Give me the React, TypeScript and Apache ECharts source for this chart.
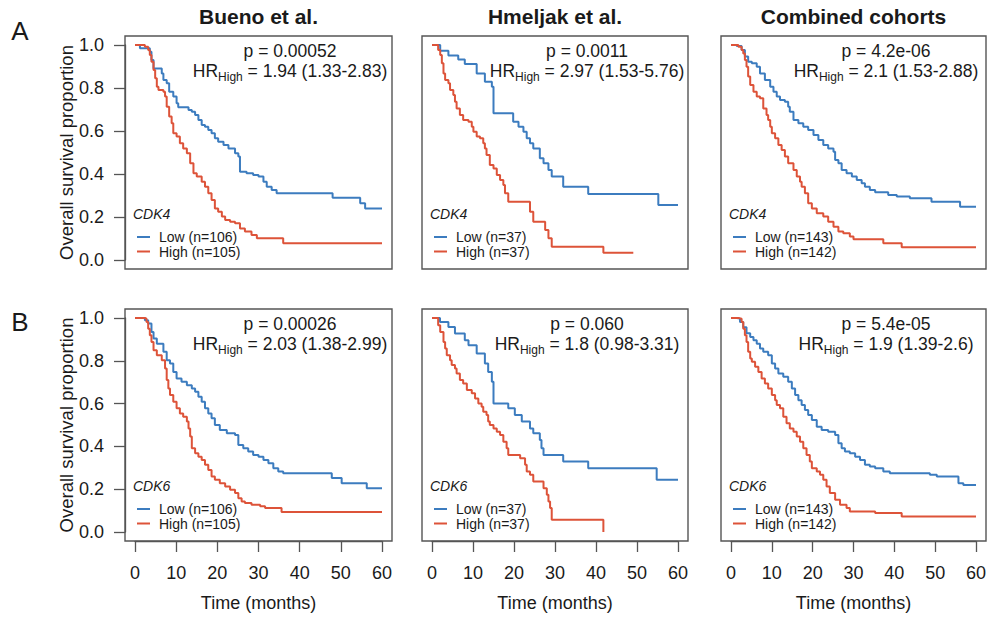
import React, { useEffect, useRef } from "react";
import * as echarts from "echarts";

// ---------- data ----------
const cohorts = ["Bueno et al.", "Hmeljak et al.", "Combined cohorts"];
const genes = ["CDK4", "CDK6"];
const rowLabels = ["A", "B"];
const timeTicks = [0, 10, 20, 30, 40, 50, 60];
const survivalTicks = [0, 0.2, 0.4, 0.6, 0.8, 1.0];
const pValues = [
  ["0.00052", "0.0011", "4.2e-06"],
  ["0.00026", "0.060", "5.4e-05"],
];
const hrValues = [
  ["1.94 (1.33-2.83)", "2.97 (1.53-5.76)", "2.1 (1.53-2.88)"],
  ["2.03 (1.38-2.99)", "1.8 (0.98-3.31)", "1.9 (1.39-2.6)"],
];
const lowN = [106, 37, 143];
const highN = [105, 37, 142];

const buenoCdk4Low = [[0,1],[1.2,.985],[3.6,.969],[4.0,.930],[4.5,.891],[6.5,.868],[6.9,.837],[7.7,.822],[8.3,.783],[9.3,.760],[10.1,.729],[10.5,.710],[13.0,.698],[13.8,.690],[14.6,.674],[15.4,.651],[16.2,.628],[17.0,.620],[17.8,.605],[18.6,.589],[19.4,.566],[20.2,.550],[21.5,.535],[22.7,.519],[24.3,.496],[25.1,.481],[25.5,.411],[27.1,.403],[28.7,.395],[30.0,.388],[31.2,.364],[32.0,.341],[33.2,.326],[34.4,.310],[48.0,.290],[54.7,.264],[55.9,.240],[60,.240]];
const buenoCdk4High = [[0,1],[2.4,.992],[3.2,.977],[3.6,.953],[4.0,.922],[4.5,.884],[4.9,.845],[5.3,.806],[5.7,.791],[6.9,.783],[7.3,.760],[7.7,.713],[8.3,.667],[8.9,.636],[9.3,.589],[10.1,.574],[10.9,.543],[11.7,.519],[12.6,.496],[13.4,.450],[14.2,.403],[15.0,.388],[16.2,.364],[17.0,.341],[17.8,.310],[18.6,.279],[19.4,.240],[20.2,.225],[21.1,.202],[21.9,.186],[23.1,.178],[24.3,.171],[25.5,.147],[26.7,.132],[28.3,.116],[29.6,.101],[36.0,.078],[60,.078]];
const hmeljakCdk4Low = [[0,1],[2.0,.973],[4.0,.951],[6.4,.932],[8.0,.912],[10.9,.868],[12.9,.829],[14.6,.806],[15.0,.682],[19.8,.643],[21.1,.620],[22.3,.597],[23.1,.566],[23.9,.543],[24.7,.519],[26.3,.473],[27.2,.450],[28.4,.419],[29.2,.388],[32.0,.341],[38.1,.307],[55.2,.256],[60,.256]];
const hmeljakCdk4High = [[0,1],[1.5,.977],[2.0,.953],[2.4,.915],[2.8,.868],[3.2,.837],[4.0,.822],[4.4,.791],[5.2,.767],[5.6,.736],[6.0,.705],[6.8,.674],[7.6,.651],[8.9,.643],[9.7,.620],[10.1,.597],[10.9,.574],[11.7,.566],[12.5,.543],[12.9,.519],[13.3,.488],[14.1,.442],[15.0,.426],[15.8,.395],[16.6,.372],[17.4,.349],[17.8,.310],[18.6,.271],[23.9,.225],[24.7,.178],[27.6,.140],[28.4,.101],[29.2,.062],[41.8,.034],[49.1,.034]];
const combinedCdk4Low = [[0,1],[1.4,.995],[2.6,.977],[3.4,.946],[4.2,.922],[5.1,.915],[6.3,.899],[7.1,.868],[8.3,.837],[9.6,.806],[10.4,.783],[11.2,.760],[12.0,.744],[13.2,.736],[14.0,.713],[14.4,.690],[15.3,.651],[16.5,.636],[17.7,.620],[18.9,.605],[20.2,.581],[21.4,.558],[22.6,.535],[23.8,.519],[25.1,.504],[25.5,.465],[26.3,.450],[27.1,.419],[28.3,.403],[29.6,.388],[30.8,.372],[32.0,.357],[32.8,.341],[34.0,.326],[35.3,.315],[38.5,.302],[40.6,.295],[43.8,.287],[49.1,.271],[56.1,.248],[60,.248]];
const combinedCdk4High = [[0,1],[1.8,.992],[2.6,.977],[3.0,.961],[3.4,.930],[3.8,.899],[4.2,.853],[4.7,.814],[5.5,.783],[6.3,.760],[7.1,.752],[7.9,.705],[8.7,.674],[9.1,.651],[9.6,.620],[10.0,.589],[10.8,.566],[11.6,.535],[12.4,.512],[13.2,.481],[14.0,.450],[15.3,.419],[16.1,.388],[16.9,.364],[17.3,.341],[18.1,.310],[18.9,.264],[19.8,.240],[21.0,.217],[22.6,.202],[23.8,.178],[25.1,.155],[26.3,.132],[27.5,.124],[29.1,.109],[30.0,.096],[37.3,.078],[41.8,.059],[60,.059]];
const buenoCdk6Low = [[0,1],[2.4,.989],[3.2,.974],[4.0,.935],[4.5,.904],[5.3,.880],[6.9,.842],[7.7,.803],[8.5,.787],[9.3,.748],[10.1,.717],[11.3,.702],[12.6,.686],[13.8,.671],[14.6,.655],[15.4,.632],[16.2,.609],[17.0,.578],[17.8,.554],[18.6,.531],[19.4,.500],[20.6,.477],[22.3,.461],[24.3,.453],[25.1,.407],[26.3,.391],[27.5,.376],[28.7,.360],[30.0,.352],[31.2,.337],[32.4,.321],[33.6,.298],[34.8,.283],[36.0,.275],[47.8,.252],[50.2,.228],[56.3,.205],[60,.205]];
const buenoCdk6High = [[0,1],[2.4,.997],[2.8,.981],[3.2,.950],[3.6,.919],[4.0,.888],[4.5,.849],[5.3,.826],[6.5,.803],[7.3,.764],[7.7,.710],[8.1,.671],[8.5,.640],[9.3,.609],[10.1,.578],[10.9,.554],[11.7,.539],[12.6,.516],[13.0,.484],[13.4,.446],[13.8,.391],[14.6,.368],[15.4,.352],[16.2,.337],[17.0,.314],[17.8,.290],[18.6,.259],[19.4,.244],[20.6,.228],[21.9,.213],[23.1,.197],[24.3,.182],[25.1,.158],[25.9,.143],[26.7,.135],[28.3,.127],[30.4,.120],[31.6,.112],[35.6,.093],[60,.093]];
const hmeljakCdk6Low = [[0,1],[1.95,.981],[4.0,.958],[5.6,.927],[8.0,.896],[8.9,.873],[10.9,.834],[12.9,.787],[13.7,.748],[14.6,.702],[15.0,.601],[18.6,.578],[20.2,.547],[21.9,.516],[23.9,.484],[24.7,.461],[26.3,.430],[26.7,.391],[27.2,.360],[32.0,.329],[38.1,.298],[54.8,.244],[60,.244]];
const hmeljakCdk6High = [[0,1],[1.5,.966],[2.0,.935],[2.8,.888],[3.2,.857],[3.6,.826],[4.4,.803],[4.8,.780],[5.6,.764],[6.0,.741],[6.8,.710],[7.6,.694],[8.5,.663],[9.7,.648],[10.5,.624],[11.3,.601],[12.1,.585],[12.5,.562],[13.3,.547],[13.7,.516],[14.1,.500],[15.0,.484],[15.8,.469],[16.6,.453],[17.4,.422],[18.2,.391],[18.6,.360],[21.5,.345],[22.7,.314],[23.1,.283],[23.9,.267],[24.7,.236],[27.2,.205],[28.0,.174],[28.4,.143],[28.8,.112],[29.2,.057],[41.8,0]];
const combinedCdk6Low = [[0,1],[1.4,.997],[2.2,.981],[3.0,.957],[3.8,.929],[4.7,.911],[5.5,.896],[6.3,.880],[7.1,.857],[7.9,.842],[9.1,.826],[10.0,.787],[10.8,.764],[11.6,.741],[12.8,.725],[14.0,.702],[14.9,.671],[15.7,.640],[16.5,.616],[17.3,.593],[18.1,.570],[18.9,.547],[19.8,.523],[21.0,.492],[22.2,.477],[23.8,.469],[25.5,.453],[26.3,.415],[27.1,.391],[27.9,.376],[29.1,.368],[30.4,.352],[31.6,.337],[32.8,.314],[34.0,.306],[35.3,.298],[37.3,.283],[38.9,.275],[48.7,.267],[50.4,.259],[55.7,.228],[56.9,.220],[60,.220]];
const combinedCdk6High = [[0,1],[1.8,.997],[2.6,.981],[3.0,.950],[3.4,.919],[3.8,.888],[4.2,.842],[4.7,.811],[5.1,.795],[5.9,.772],[6.7,.748],[7.5,.717],[8.3,.694],[9.1,.671],[10.0,.640],[10.8,.616],[11.2,.593],[12.0,.578],[12.8,.539],[13.6,.508],[14.4,.484],[15.3,.469],[16.1,.446],[16.9,.422],[17.7,.391],[18.5,.360],[19.3,.329],[19.8,.298],[21.0,.283],[21.8,.267],[22.6,.244],[23.4,.213],[24.2,.182],[25.5,.151],[26.7,.127],[28.3,.112],[29.1,.096],[35.3,.089],[41.8,.073],[60,.073]];

const lowCurves = [
  [buenoCdk4Low, hmeljakCdk4Low, combinedCdk4Low],
  [buenoCdk6Low, hmeljakCdk6Low, combinedCdk6Low],
];
const highCurves = [
  [buenoCdk4High, hmeljakCdk4High, combinedCdk4High],
  [buenoCdk6High, hmeljakCdk6High, combinedCdk6High],
];

// ---------- layout / style ----------
const FONT = '"Liberation Sans", Arial, Helvetica, sans-serif';
const TEXT = "#1a1a1a";
const AXIS = "#555";
const BLUE = "#3c7cbf";
const RED = "#dd5339";
const dataLeft = [135, 432, 731];
const dataWidth = [247, 246, 245];
const dataTop = [45, 318];
const dataHeight = [215, 214];
const padX = 10;
const padY = 9;

function buildOption() {
  const grid: any[] = [];
  const xAxis: any[] = [];
  const yAxis: any[] = [];
  const series: any[] = [];
  const graphic: any[] = [];

  for (let r = 0; r < 2; r++) {
    for (let c = 0; c < 3; c++) {
      const i = r * 3 + c;
      grid.push({ left: dataLeft[c], top: dataTop[r], width: dataWidth[c], height: dataHeight[r], containLabel: false });
      xAxis.push({
        gridIndex: i, type: "value", min: timeTicks[0], max: timeTicks[timeTicks.length - 1], interval: 10,
        show: r === 1, offset: padY,
        axisLine: { show: true, onZero: false, lineStyle: { color: AXIS, width: 1.3 } },
        axisTick: { show: true, length: 11, lineStyle: { color: AXIS, width: 1.3 } },
        axisLabel: { show: true, fontSize: 18, fontFamily: FONT, color: TEXT, margin: 23 },
        splitLine: { show: false },
      });
      yAxis.push({
        gridIndex: i, type: "value", min: survivalTicks[0], max: survivalTicks[survivalTicks.length - 1], interval: 0.2,
        show: c === 0, offset: padX,
        axisLine: { show: true, onZero: false, lineStyle: { color: AXIS, width: 1.3 } },
        axisTick: { show: true, length: 11, lineStyle: { color: AXIS, width: 1.3 } },
        axisLabel: { show: true, fontSize: 18, fontFamily: FONT, color: TEXT, margin: 21, formatter: (v: number) => v.toFixed(1) },
        splitLine: { show: false },
      });
      const mk = (name: string, data: number[][], color: string) => ({
        type: "line", name, xAxisIndex: i, yAxisIndex: i, data, step: "end",
        showSymbol: false, symbol: "none", clip: false, silent: true,
        lineStyle: { color, width: 2 }, itemStyle: { color }, z: 3,
      });
      series.push(mk(`${cohorts[c]} ${genes[r]} Low`, lowCurves[r][c], BLUE));
      series.push(mk(`${cohorts[c]} ${genes[r]} High`, highCurves[r][c], RED));

      const bl = dataLeft[c] - padX;
      const br = dataLeft[c] + dataWidth[c] + padX;
      const bt = dataTop[r] - padY;
      const bb = dataTop[r] + dataHeight[r] + padY;
      graphic.push({ type: "rect", shape: { x: bl, y: bt, width: br - bl, height: bb - bt }, style: { fill: "none", stroke: AXIS, lineWidth: 1.4 }, z: 1, silent: true });

      // p-value and HR
      const cx = bl + 165;
      graphic.push({ type: "text", x: cx, y: bt + 15, silent: true, style: { text: `p = ${pValues[r][c]}`, align: "center", verticalAlign: "middle", fontSize: 17.5, fontFamily: FONT, fill: TEXT } });
      graphic.push({
        type: "text", x: cx, y: bt + 35, silent: true,
        style: {
          text: `{a|HR}{s|High}{a| = ${hrValues[r][c]}}`, align: "center", verticalAlign: "middle",
          fontSize: 17.5, fontFamily: FONT, fill: TEXT,
          rich: {
            a: { fontSize: 17.5, fontFamily: FONT, fill: TEXT, lineHeight: 24 },
            s: { fontSize: 12, fontFamily: FONT, fill: TEXT, verticalAlign: "bottom" },
          },
        },
      });

      // legend
      graphic.push({ type: "text", x: bl + 8, y: bb - 55, silent: true, style: { text: genes[r], align: "left", verticalAlign: "middle", fontSize: 14, fontStyle: "italic", fontFamily: FONT, fill: TEXT } });
      graphic.push({ type: "line", shape: { x1: bl + 12, y1: bb - 32, x2: bl + 25, y2: bb - 32 }, style: { stroke: BLUE, lineWidth: 2 }, silent: true });
      graphic.push({ type: "line", shape: { x1: bl + 12, y1: bb - 17.5, x2: bl + 25, y2: bb - 17.5 }, style: { stroke: RED, lineWidth: 2 }, silent: true });
      graphic.push({ type: "text", x: bl + 34, y: bb - 32, silent: true, style: { text: `Low (n=${lowN[c]})`, align: "left", verticalAlign: "middle", fontSize: 14, fontFamily: FONT, fill: TEXT } });
      graphic.push({ type: "text", x: bl + 34, y: bb - 17.5, silent: true, style: { text: `High (n=${highN[c]})`, align: "left", verticalAlign: "middle", fontSize: 14, fontFamily: FONT, fill: TEXT } });

      if (r === 0) {
        graphic.push({ type: "text", x: (bl + br) / 2, y: 16, silent: true, style: { text: cohorts[c], align: "center", verticalAlign: "middle", fontSize: 21, fontWeight: "bold", fontFamily: FONT, fill: TEXT } });
      } else {
        graphic.push({ type: "text", x: (bl + br) / 2, y: 603, silent: true, style: { text: "Time (months)", align: "center", verticalAlign: "middle", fontSize: 18, fontFamily: FONT, fill: TEXT } });
      }
    }
    graphic.push({ type: "text", x: 20, y: r === 0 ? 31 : 322, silent: true, style: { text: rowLabels[r], align: "center", verticalAlign: "middle", fontSize: 26, fontFamily: FONT, fill: TEXT } });
    graphic.push({ type: "text", x: 66, y: dataTop[r] + dataHeight[r] / 2, rotation: Math.PI / 2, silent: true, style: { text: "Overall survival proportion", align: "center", verticalAlign: "middle", fontSize: 18.5, fontFamily: FONT, fill: TEXT } });
  }

  return {
    animation: false,
    backgroundColor: "#ffffff",
    grid, xAxis, yAxis, series, graphic,
  };
}

export default function App() {
  const ref = useRef<HTMLDivElement>(null);
  useEffect(() => {
    if (!ref.current) return;
    const chart = echarts.init(ref.current, null, { renderer: "svg" });
    chart.setOption(buildOption());
    return () => chart.dispose();
  }, []);
  return <div ref={ref} style={{ position: "fixed", left: 0, top: 0, width: 994, height: 619, background: "#fff" }} />;
}
